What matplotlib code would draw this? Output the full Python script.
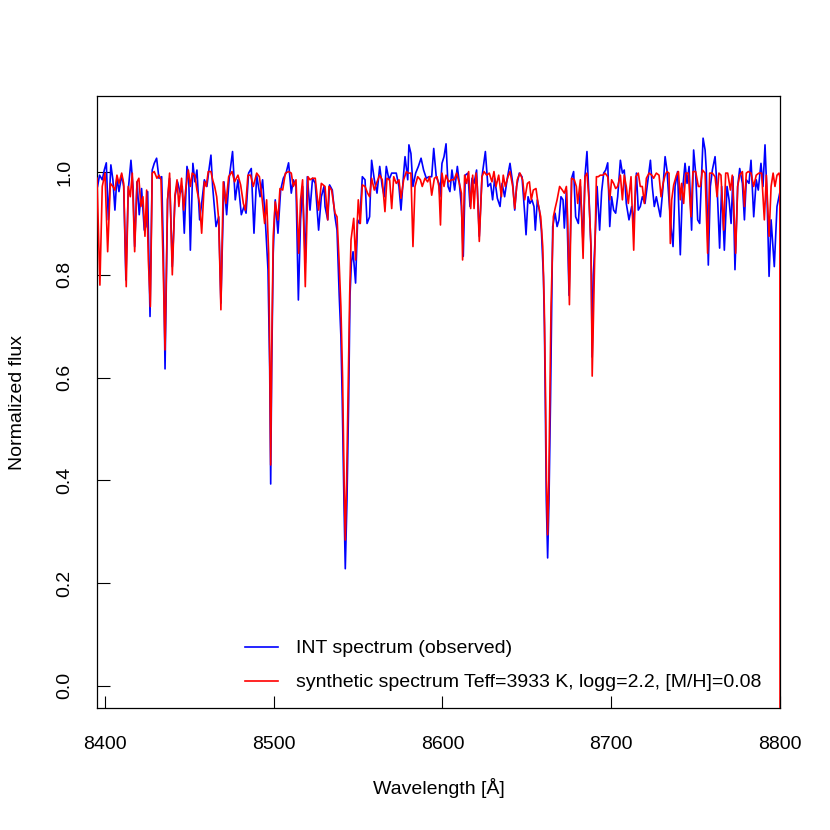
import matplotlib
matplotlib.use("Agg")
import matplotlib.pyplot as plt
import numpy as np

plt.rcParams.update({
    'font.family': ['Liberation Sans', 'DejaVu Sans'],
    'font.size': 14,
})

# observed INT spectrum
wl_obs = [
    8395.6, 8396.8, 8398.4, 8399.6, 8400.8, 8402.0, 8403.5, 8404.7, 8405.9, 8407.1,
    8408.3, 8409.9, 8411.1, 8412.4, 8413.8, 8415.4, 8416.6, 8417.6, 8419.0, 8420.3,
    8421.7, 8423.3, 8424.3, 8425.3, 8426.7, 8428.0, 8429.2, 8430.6, 8432.0, 8433.6,
    8434.6, 8435.6, 8437.1, 8438.3, 8439.9, 8441.5, 8443.0, 8444.6, 8445.8, 8447.0,
    8448.6, 8449.6, 8450.6, 8452.1, 8453.3, 8454.5, 8456.1, 8457.3, 8458.9, 8460.4,
    8461.6, 8462.8, 8463.8, 8465.8, 8467.4, 8468.7, 8470.5, 8472.1, 8473.7, 8475.6,
    8477.2, 8478.8, 8480.8, 8482.4, 8483.6, 8485.1, 8486.7, 8488.3, 8489.9, 8491.9,
    8493.4, 8495.0, 8496.6, 8497.6, 8498.2, 8498.8, 8499.7, 8500.9, 8502.5, 8504.1,
    8505.7, 8507.3, 8508.8, 8510.4, 8511.6, 8513.2, 8514.6, 8515.9, 8517.1, 8518.7,
    8519.9, 8521.5, 8523.0, 8524.6, 8526.6, 8528.2, 8529.8, 8530.4, 8532.0, 8533.1,
    8534.7, 8536.3, 8537.5, 8538.8, 8539.8, 8540.6, 8541.6, 8542.4, 8543.4, 8544.4,
    8545.2, 8546.0, 8547.0, 8548.5, 8549.7, 8550.9, 8552.5, 8554.1, 8555.3, 8556.8,
    8558.0, 8559.6, 8561.2, 8562.8, 8564.3, 8565.5, 8566.7, 8568.3, 8569.9, 8571.1,
    8572.6, 8574.2, 8575.4, 8577.0, 8577.8, 8579.4, 8580.1, 8581.3, 8582.5, 8584.1,
    8585.7, 8587.3, 8588.8, 8590.4, 8592.0, 8593.6, 8594.8, 8596.3, 8597.9, 8598.5,
    8599.7, 8600.9, 8602.1, 8603.3, 8604.4, 8605.6, 8607.2, 8608.8, 8610.0, 8611.2,
    8612.3, 8613.5, 8615.1, 8616.3, 8617.5, 8618.7, 8620.2, 8621.8, 8623.4, 8625.4,
    8626.9, 8628.5, 8629.7, 8630.9, 8632.5, 8634.1, 8635.3, 8636.8, 8638.4, 8640.0,
    8641.6, 8642.8, 8643.9, 8645.5, 8647.1, 8648.7, 8649.5, 8650.7, 8651.8, 8653.0,
    8654.2, 8655.0, 8656.2, 8657.4, 8658.6, 8659.8, 8660.4, 8660.9, 8661.5, 8662.3,
    8663.1, 8664.0, 8664.6, 8665.3, 8666.7, 8667.9, 8669.0, 8670.2, 8671.4, 8672.2,
    8673.4, 8675.0, 8676.5, 8677.7, 8678.9, 8680.5, 8681.7, 8683.3, 8684.4, 8685.6,
    8686.8, 8688.0, 8688.7, 8689.4, 8690.4, 8691.6, 8693.1, 8694.3, 8695.5, 8696.7,
    8697.9, 8699.1, 8700.2, 8701.4, 8702.6, 8703.8, 8705.4, 8706.6, 8707.7, 8708.9,
    8710.5, 8712.1, 8713.3, 8714.9, 8716.0, 8717.2, 8718.4, 8720.0, 8721.6, 8723.2,
    8724.3, 8725.5, 8726.7, 8727.9, 8729.1, 8730.7, 8731.9, 8733.0, 8734.2, 8735.4,
    8736.6, 8737.8, 8739.3, 8740.9, 8742.1, 8743.7, 8744.9, 8746.1, 8747.6, 8748.8,
    8750.0, 8751.2, 8752.4, 8753.6, 8754.4, 8755.6, 8756.3, 8757.5, 8758.7, 8759.9,
    8761.5, 8762.7, 8764.2, 8765.4, 8767.0, 8768.6, 8769.8, 8771.0, 8772.1, 8773.3,
    8774.9, 8776.1, 8777.7, 8778.9, 8780.0, 8781.6, 8782.8, 8784.4, 8785.9, 8787.1,
    8788.7, 8789.9, 8791.1, 8792.3, 8793.5, 8794.7, 8796.6, 8798.2, 8799.8,
]
flux_obs = [
    0.972, 0.994, 0.985, 1.004, 1.018, 0.907, 1.014, 0.985, 0.926, 0.991,
    0.962, 0.994, 0.972, 0.790, 0.965, 1.023, 0.972, 0.855, 0.981, 0.917,
    0.968, 0.887, 0.894, 0.962, 0.719, 1.004, 1.017, 1.027, 0.988, 0.991,
    0.850, 0.617, 0.946, 0.988, 0.816, 0.952, 0.981, 0.959, 0.972, 0.881,
    1.011, 0.994, 0.848, 1.017, 0.981, 1.004, 0.907, 0.939, 0.985, 0.972,
    1.004, 1.033, 0.972, 0.894, 0.913, 0.745, 0.981, 0.917, 0.991, 1.040,
    0.946, 0.985, 0.917, 0.933, 0.920, 0.998, 1.007, 0.881, 0.994, 0.952,
    0.985, 0.907, 0.810, 0.620, 0.393, 0.620, 0.842, 0.946, 0.881, 0.965,
    0.988, 0.998, 1.018, 0.959, 0.985, 0.972, 0.751, 0.907, 0.972, 0.823,
    0.991, 0.926, 0.988, 0.978, 0.887, 0.952, 0.972, 0.933, 0.907, 0.975,
    0.965, 0.913, 0.887, 0.760, 0.680, 0.556, 0.360, 0.228, 0.360, 0.556,
    0.760, 0.823, 0.845, 0.784, 0.907, 0.900, 0.991, 0.985, 0.900, 0.913,
    1.023, 0.985, 0.959, 1.011, 0.972, 0.952, 1.011, 0.985, 0.998, 0.998,
    0.998, 0.972, 0.926, 0.998, 1.030, 0.985, 1.053, 1.036, 0.972, 0.998,
    1.011, 1.027, 1.004, 0.988, 0.991, 0.991, 1.046, 0.991, 0.978, 0.952,
    1.017, 1.030, 1.055, 0.972, 0.962, 1.004, 0.965, 1.011, 0.978, 0.933,
    0.836, 0.994, 0.998, 0.933, 0.988, 0.978, 1.004, 0.875, 0.991, 1.040,
    0.972, 0.978, 0.946, 0.988, 0.949, 0.933, 0.978, 0.952, 0.988, 1.017,
    0.978, 0.926, 0.972, 0.998, 0.991, 0.920, 0.878, 0.952, 0.939, 0.946,
    0.933, 0.887, 0.946, 0.926, 0.887, 0.797, 0.700, 0.556, 0.362, 0.249,
    0.362, 0.556, 0.712, 0.894, 0.920, 0.894, 0.907, 0.952, 0.946, 0.891,
    0.965, 0.760, 0.988, 1.001, 0.913, 0.900, 0.972, 0.860, 0.991, 1.040,
    0.952, 0.850, 0.640, 0.800, 0.868, 0.972, 0.887, 0.962, 0.998, 1.004,
    1.018, 0.894, 0.952, 0.926, 0.920, 0.952, 1.023, 0.998, 1.004, 0.939,
    0.907, 0.933, 0.900, 0.998, 0.926, 0.933, 0.952, 0.939, 0.981, 1.023,
    0.972, 0.933, 0.952, 0.933, 0.913, 0.972, 1.030, 1.004, 0.946, 0.894,
    0.855, 0.972, 1.001, 0.839, 0.959, 1.017, 0.978, 1.011, 0.887, 1.043,
    0.998, 0.907, 0.900, 0.998, 1.066, 1.043, 1.004, 0.819, 0.972, 1.004,
    1.030, 0.972, 0.852, 0.972, 0.848, 0.972, 0.946, 0.900, 0.991, 0.810,
    0.972, 1.007, 0.978, 0.907, 0.985, 0.978, 1.023, 0.913, 0.985, 0.965,
    1.017, 0.972, 1.053, 0.952, 0.797, 0.907, 0.816, 0.933, 0.959,
]

# synthetic spectrum
wl_syn = [
    8395.3, 8397.0, 8398.4, 8400.0, 8401.6, 8403.2, 8404.7, 8405.9, 8407.1, 8408.3,
    8409.9, 8411.1, 8412.6, 8413.8, 8415.0, 8416.2, 8417.6, 8419.0, 8420.1, 8421.3,
    8422.5, 8423.7, 8424.7, 8425.7, 8426.9, 8428.0, 8429.2, 8430.8, 8432.0, 8433.2,
    8434.4, 8435.6, 8437.1, 8438.3, 8439.9, 8441.5, 8442.7, 8443.8, 8445.4, 8446.6,
    8447.8, 8449.4, 8450.6, 8451.7, 8453.3, 8454.5, 8456.1, 8457.3, 8458.9, 8460.0,
    8461.2, 8462.8, 8463.8, 8465.0, 8466.2, 8467.4, 8468.7, 8470.1, 8471.7, 8473.3,
    8475.3, 8476.8, 8478.8, 8480.4, 8482.0, 8483.2, 8484.7, 8486.3, 8487.9, 8489.9,
    8491.5, 8493.0, 8494.6, 8495.8, 8497.0, 8497.6, 8498.2, 8498.8, 8499.7, 8500.9,
    8502.5, 8503.7, 8505.3, 8506.9, 8508.8, 8510.4, 8511.6, 8513.2, 8514.8, 8515.9,
    8517.1, 8518.7, 8520.3, 8521.5, 8523.0, 8524.6, 8526.6, 8528.2, 8530.4, 8532.0,
    8532.7, 8534.3, 8536.3, 8537.5, 8538.7, 8539.8, 8540.8, 8541.7, 8542.4, 8543.2,
    8544.2, 8545.0, 8545.8, 8547.4, 8548.5, 8550.1, 8551.3, 8552.5, 8554.1, 8555.6,
    8556.8, 8558.0, 8559.6, 8561.2, 8562.8, 8564.3, 8565.9, 8567.1, 8568.7, 8569.9,
    8571.1, 8572.6, 8574.2, 8575.4, 8577.0, 8578.6, 8579.7, 8581.3, 8582.5, 8583.7,
    8585.3, 8586.9, 8588.0, 8589.6, 8591.2, 8592.4, 8593.6, 8595.2, 8596.7, 8597.9,
    8598.8, 8599.7, 8600.9, 8602.1, 8603.6, 8605.2, 8606.8, 8608.4, 8610.0, 8611.2,
    8611.9, 8613.1, 8614.3, 8615.5, 8616.7, 8617.9, 8618.7, 8619.9, 8620.6, 8621.8,
    8623.4, 8624.6, 8626.2, 8627.7, 8629.3, 8630.5, 8631.7, 8633.3, 8634.9, 8636.0,
    8637.2, 8638.8, 8640.0, 8641.6, 8642.8, 8644.3, 8645.9, 8647.5, 8648.7, 8650.3,
    8651.5, 8652.6, 8653.8, 8655.4, 8656.6, 8658.2, 8659.4, 8660.3, 8661.0, 8661.6,
    8662.3, 8663.0, 8663.7, 8664.3, 8665.7, 8666.7, 8667.9, 8669.4, 8671.0, 8672.2,
    8673.4, 8674.2, 8675.2, 8676.5, 8678.1, 8679.3, 8680.1, 8681.7, 8683.3, 8684.4,
    8685.6, 8686.8, 8688.0, 8688.7, 8690.0, 8691.2, 8692.3, 8693.5, 8695.1, 8696.3,
    8697.9, 8699.1, 8700.2, 8701.4, 8702.6, 8703.8, 8705.4, 8706.6, 8707.7, 8708.9,
    8710.1, 8711.7, 8713.3, 8714.5, 8716.0, 8717.2, 8718.4, 8719.6, 8720.8, 8722.4,
    8724.0, 8725.1, 8726.7, 8728.3, 8729.5, 8730.7, 8731.9, 8733.0, 8734.2, 8735.0,
    8735.8, 8737.0, 8738.6, 8739.8, 8740.9, 8741.7, 8742.9, 8744.1, 8745.7, 8747.2,
    8748.4, 8750.0, 8751.6, 8752.8, 8754.0, 8755.6, 8757.1, 8758.3, 8759.9, 8761.5,
    8762.7, 8763.8, 8765.0, 8766.6, 8767.8, 8769.0, 8770.6, 8771.7, 8772.9, 8773.7,
    8774.9, 8776.1, 8777.7, 8778.9, 8780.0, 8781.2, 8782.8, 8784.4, 8785.9, 8787.5,
    8789.1, 8790.7, 8791.9, 8793.5, 8794.7, 8795.9, 8797.0, 8798.2, 8799.4, 8799.9,
    8800.0,
]
flux_syn = [
    0.988, 0.780, 0.972, 0.998, 0.845, 0.978, 0.972, 0.965, 0.994, 0.978,
    0.998, 0.978, 0.777, 0.972, 0.952, 0.998, 0.845, 0.981, 0.988, 0.933,
    0.952, 0.875, 0.965, 0.829, 0.738, 0.998, 1.001, 0.988, 0.994, 0.985,
    0.829, 0.654, 0.946, 0.998, 0.800, 0.955, 0.985, 0.933, 0.988, 0.926,
    0.965, 1.004, 0.972, 0.998, 0.994, 0.965, 0.939, 0.881, 0.981, 0.972,
    1.001, 1.001, 0.985, 0.972, 0.952, 0.907, 0.732, 0.981, 0.939, 0.991,
    1.001, 0.981, 0.994, 0.975, 0.939, 0.926, 0.994, 0.994, 0.972, 0.998,
    0.991, 0.952, 0.900, 0.946, 0.842, 0.650, 0.430, 0.650, 0.875, 0.942,
    0.907, 0.968, 0.965, 0.998, 1.001, 0.998, 0.972, 0.985, 0.842, 0.946,
    0.985, 0.777, 0.991, 0.985, 0.988, 0.988, 0.926, 0.978, 0.972, 0.907,
    0.972, 0.965, 0.920, 0.913, 0.829, 0.738, 0.600, 0.400, 0.284, 0.400,
    0.600, 0.760, 0.868, 0.910, 0.829, 0.946, 0.900, 0.975, 0.972, 0.959,
    0.952, 0.988, 0.965, 0.981, 0.994, 0.985, 0.923, 0.988, 0.985, 0.929,
    0.991, 0.978, 0.985, 0.949, 0.985, 1.001, 0.998, 0.998, 0.855, 0.972,
    0.991, 0.985, 0.972, 0.988, 0.981, 0.991, 0.955, 0.988, 0.991, 0.972,
    0.897, 0.998, 0.972, 0.994, 0.981, 0.985, 0.985, 0.998, 0.978, 0.959,
    0.829, 0.994, 0.978, 1.001, 0.929, 0.994, 0.929, 0.998, 0.972, 0.865,
    0.991, 1.001, 0.994, 0.998, 0.981, 1.001, 0.972, 0.994, 0.952, 0.994,
    0.972, 0.991, 1.001, 0.972, 0.929, 0.985, 0.998, 0.985, 0.946, 0.978,
    0.981, 0.946, 0.965, 0.968, 0.939, 0.913, 0.855, 0.740, 0.580, 0.400,
    0.294, 0.400, 0.580, 0.738, 0.913, 0.929, 0.946, 0.972, 0.965, 0.959,
    0.972, 0.907, 0.742, 0.988, 0.985, 0.972, 0.939, 0.985, 0.832, 0.991,
    0.998, 0.946, 0.855, 0.603, 0.803, 0.991, 0.991, 0.994, 0.994, 0.998,
    0.991, 0.946, 0.985, 0.978, 0.968, 0.972, 0.994, 0.946, 0.994, 0.972,
    0.939, 0.991, 0.848, 0.991, 0.998, 0.972, 0.972, 0.939, 0.988, 0.998,
    0.994, 0.988, 0.998, 0.994, 0.952, 0.978, 0.994, 1.001, 0.998, 0.861,
    0.946, 0.975, 0.994, 1.001, 0.946, 0.978, 0.939, 0.998, 0.998, 0.913,
    1.001, 1.001, 0.972, 0.972, 1.004, 0.998, 0.842, 0.998, 0.998, 0.991,
    0.952, 0.998, 0.994, 0.887, 0.998, 0.998, 0.965, 0.994, 0.907, 0.842,
    0.972, 0.994, 1.001, 0.933, 0.998, 1.001, 0.998, 0.972, 0.994, 0.998,
    0.998, 0.907, 0.994, 0.875, 0.972, 0.998, 0.972, 0.994, 0.998, 0.990,
    -0.060,
]

x_ticks = [8400, 8500, 8600, 8700, 8800]
y_ticks = [0.0, 0.2, 0.4, 0.6, 0.8, 1.0]

label_obs = 'INT spectrum (observed)'
label_syn = 'synthetic spectrum Teff=3933 K, logg=2.2, [M/H]=0.08'

fig = plt.figure(figsize=(8.3, 8.3), dpi=100)
ax = fig.add_axes([0.1169, 0.147, 0.8229, 0.7373])

# lines on top of the box, like R does
ax.plot(wl_obs, flux_obs, color='blue', lw=1.2, label=label_obs, zorder=3)
ax.plot(wl_syn, flux_syn, color='red', lw=1.2, label=label_syn, zorder=3)

ax.set_xlim(8395.3, 8800)
ax.set_ylim(-0.043, 1.148)
ax.set_xticks(x_ticks)
ax.set_yticks(y_ticks)
ax.set_yticklabels([f'{v:.1f}' for v in y_ticks], rotation=90, va='center')

ax.tick_params(direction='in', length=9, width=0.8, labelsize=14,
               top=False, right=False)
ax.tick_params(axis='x', pad=20)
ax.tick_params(axis='y', pad=17)
for s in ax.spines.values():
    s.set_linewidth(0.9)

ax.set_xlabel('Wavelength [Å]', fontsize=14, labelpad=18)
ax.set_ylabel('Normalized flux', fontsize=14, labelpad=22)

ax.legend(loc='lower left', bbox_to_anchor=(0.2167, 0.027), frameon=False,
          handlelength=1.7, handletextpad=0.93, labelspacing=0.85,
          borderpad=0, borderaxespad=0, fontsize=14)

fig.savefig('out.png', dpi=100)
